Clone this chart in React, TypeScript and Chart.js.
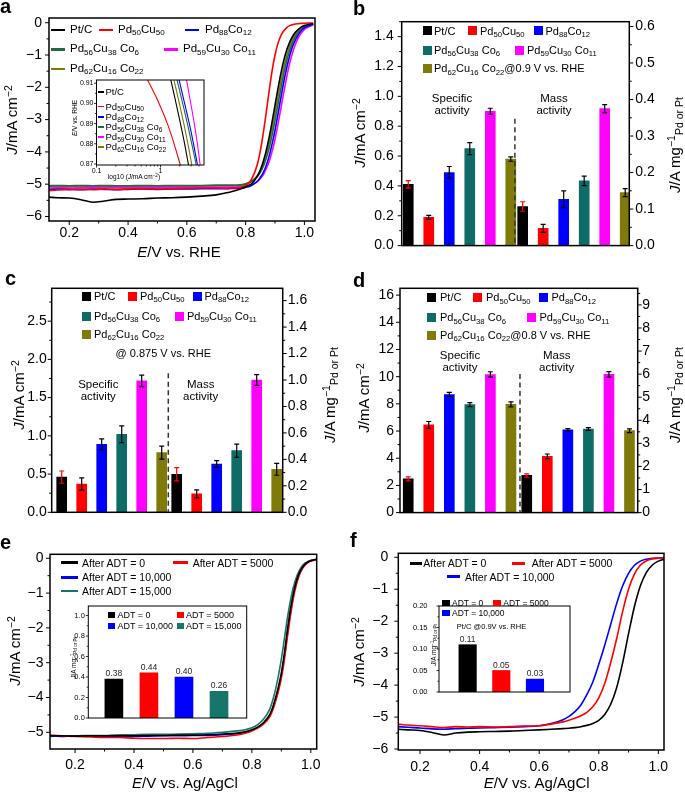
import React, { useEffect, useRef } from 'react';
import { Chart, registerables } from 'chart.js';

Chart.register(...registerables);
const FONT = "'Liberation Sans', Arial, Helvetica, sans-serif";
Chart.defaults.font.family = FONT;
Chart.defaults.color = '#000';

// ---------------- names / labels ----------------
const ALLOYS = ['Pt/C', 'Pd50Cu50', 'Pd88Co12', 'Pd56Cu38 Co6', 'Pd59Cu30 Co11', 'Pd62Cu16 Co22'];
const ADT_LABELS = ['After ADT = 0', 'After ADT = 5000', 'After ADT = 10,000', 'After ADT = 15,000'];
const ADT_SHORT = ['ADT = 0', 'ADT = 5000', 'ADT = 10,000', 'ADT = 15,000'];
const NOTE_B = '@0.9 V vs. RHE';
const NOTE_C = '@ 0.875 V vs. RHE';
const NOTE_D = '@0.8 V vs. RHE';
const NOTE_F = 'Pt/C @0.9V vs. RHE';

// ---------------- panel a : LSV curves (E / V vs RHE, J / mA cm-2) ----------------
const A_E = [0.13, 0.16, 0.2, 0.24, 0.28, 0.32, 0.36, 0.4, 0.45, 0.5, 0.55, 0.6, 0.65, 0.7, 0.74, 0.76,
  0.78, 0.8, 0.82, 0.84, 0.85, 0.86, 0.87, 0.88, 0.89, 0.9, 0.91, 0.92, 0.93, 0.94, 0.95, 0.96, 0.97, 0.98, 0.99, 1.0, 1.01, 1.03];
const A_PTC = [-5.40, -5.42, -5.43, -5.48, -5.56, -5.52, -5.47, -5.46, -5.45, -5.43, -5.42, -5.40, -5.37, -5.33, -5.26, -5.21,
  -5.16, -5.08, -4.99, -4.75, -4.56, -4.30, -3.96, -3.55, -3.07, -2.55, -2.04, -1.57, -1.16, -0.84, -0.60, -0.42, -0.29, -0.20, -0.13, -0.09, -0.06, -0.03];
const A_PDCU = [-5.20, -5.18, -5.17, -5.16, -5.17, -5.15, -5.16, -5.15, -5.14, -5.15, -5.14, -5.13, -5.12, -5.12, -5.13, -5.12,
  -5.11, -5.04, -4.85, -4.38, -3.97, -3.42, -2.78, -2.11, -1.49, -1.00, -0.64, -0.40, -0.25, -0.15, -0.09, -0.06, -0.04, -0.03, -0.02, -0.02, -0.01, -0.01];
const A_PDCO = [-5.17, -5.15, -5.16, -5.17, -5.15, -5.16, -5.17, -5.16, -5.15, -5.16, -5.15, -5.15, -5.14, -5.14, -5.14, -5.13,
  -5.13, -5.10, -5.04, -4.91, -4.79, -4.64, -4.42, -4.13, -3.76, -3.33, -2.83, -2.32, -1.82, -1.39, -1.02, -0.73, -0.52, -0.36, -0.24, -0.16, -0.11, -0.05];
const A_C6 = [-5.05, -5.04, -5.05, -5.04, -5.05, -5.04, -5.05, -5.05, -5.04, -5.05, -5.04, -5.04, -5.04, -5.03, -5.03, -5.03,
  -5.02, -4.99, -4.91, -4.76, -4.63, -4.45, -4.20, -3.88, -3.48, -3.02, -2.53, -2.03, -1.57, -1.17, -0.85, -0.60, -0.42, -0.29, -0.20, -0.14, -0.09, -0.04];
const A_C11 = [-5.12, -5.11, -5.12, -5.11, -5.10, -5.11, -5.10, -5.11, -5.10, -5.10, -5.10, -5.10, -5.09, -5.09, -5.09, -5.09,
  -5.08, -5.06, -5.01, -4.92, -4.83, -4.71, -4.53, -4.30, -3.99, -3.61, -3.15, -2.65, -2.15, -1.67, -1.25, -0.92, -0.65, -0.45, -0.32, -0.21, -0.15, -0.07];
const A_C22 = [-5.08, -5.07, -5.08, -5.07, -5.08, -5.07, -5.07, -5.06, -5.07, -5.06, -5.06, -5.06, -5.06, -5.05, -5.05, -5.05,
  -5.04, -5.00, -4.92, -4.73, -4.57, -4.36, -4.07, -3.71, -3.28, -2.79, -2.29, -1.80, -1.37, -1.01, -0.72, -0.51, -0.35, -0.24, -0.16, -0.11, -0.08, -0.04];
const A_CURVES = [A_PTC, A_PDCU, A_PDCO, A_C6, A_C11, A_C22];
const A_X_TICKS = [0.2, 0.4, 0.6, 0.8, 1.0];
const A_Y_TICKS = [0, -1, -2, -3, -4, -5, -6];

// inset a: Tafel-like region (x: J / mA cm-2 on log axis, y: E / V)
const INS_E = [0.912, 0.90, 0.89, 0.88, 0.869];
const INS_PTC = [1.44, 1.75, 2.05, 2.38, 2.76];
const INS_PDCU = [0.62, 0.95, 1.28, 1.63, 2.06];
const INS_PDCO = [1.94, 2.38, 2.82, 3.28, 3.81];
const INS_C6 = [1.80, 2.22, 2.63, 3.08, 3.65];
const INS_C11 = [2.54, 2.97, 3.37, 3.77, 4.18];
const INS_C22 = [1.61, 1.97, 2.31, 2.68, 3.11];
const INS_CURVES = [INS_PTC, INS_PDCU, INS_PDCO, INS_C6, INS_C11, INS_C22];
const INS_X_TICKS = [0.1, 1];
const INS_Y_TICKS = [0.87, 0.88, 0.89, 0.90, 0.91];

// ---------------- panels b, c, d : activities ----------------
const B_SPEC = [0.41, 0.19, 0.49, 0.65, 0.90, 0.58];
const B_SPEC_ERR = [0.025, 0.012, 0.04, 0.04, 0.02, 0.015];
const B_MASS = [0.107, 0.047, 0.127, 0.177, 0.375, 0.145];
const B_MASS_ERR = [0.013, 0.011, 0.023, 0.013, 0.011, 0.011];
const B_LEFT_TICKS = [0, 0.2, 0.4, 0.6, 0.8, 1.0, 1.2, 1.4];
const B_RIGHT_TICKS = [0, 0.1, 0.2, 0.3, 0.4, 0.5, 0.6];

const C_SPEC = [0.46, 0.37, 0.89, 1.02, 1.72, 0.78];
const C_SPEC_ERR = [0.08, 0.08, 0.07, 0.11, 0.075, 0.085];
const C_MASS = [0.287, 0.139, 0.365, 0.466, 1.0, 0.325];
const C_MASS_ERR = [0.05, 0.03, 0.025, 0.05, 0.04, 0.045];
const C_LEFT_TICKS = [0, 0.5, 1.0, 1.5, 2.0, 2.5];
const C_RIGHT_TICKS = [0, 0.2, 0.4, 0.6, 0.8, 1.0, 1.2, 1.4, 1.6];

const D_SPEC = [2.48, 6.45, 8.69, 7.94, 10.16, 7.96];
const D_SPEC_ERR = [0.15, 0.25, 0.15, 0.15, 0.2, 0.18];
const D_MASS = [1.61, 2.44, 3.59, 3.62, 5.99, 3.55];
const D_MASS_ERR = [0.07, 0.1, 0.05, 0.06, 0.12, 0.08];
const D_LEFT_TICKS = [0, 2, 4, 6, 8, 10, 12, 14, 16];
const D_RIGHT_TICKS = [0, 1, 2, 3, 4, 5, 6, 7, 8, 9];

// ---------------- panel e : ADT of Pd59Cu30Co11 ----------------
const E_E = [0.115, 0.15, 0.2, 0.25, 0.3, 0.35, 0.4, 0.45, 0.5, 0.55, 0.6, 0.65, 0.7, 0.75,
  0.78, 0.8, 0.82, 0.84, 0.86, 0.87, 0.88, 0.89, 0.9, 0.91, 0.92, 0.93, 0.94, 0.95, 0.96, 0.97, 0.98, 0.99, 1.0, 1.02];
const E_ADT0 = [-5.10, -5.10, -5.11, -5.10, -5.10, -5.09, -5.10, -5.09, -5.09, -5.08, -5.08, -5.07, -5.05, -5.02,
  -4.98, -4.93, -4.85, -4.72, -4.50, -4.30, -4.02, -3.70, -3.30, -2.75, -2.10, -1.52, -1.05, -0.69, -0.44, -0.28, -0.17, -0.11, -0.07, -0.03];
const E_ADT5000 = [-5.08, -5.10, -5.12, -5.13, -5.15, -5.15, -5.17, -5.18, -5.18, -5.17, -5.18, -5.15, -5.12, -5.08,
  -5.02, -4.96, -4.88, -4.76, -4.56, -4.38, -4.12, -3.82, -3.44, -2.93, -2.30, -1.70, -1.18, -0.79, -0.51, -0.32, -0.20, -0.12, -0.08, -0.03];
const E_ADT10000 = [-5.10, -5.12, -5.11, -5.12, -5.12, -5.11, -5.12, -5.11, -5.10, -5.10, -5.09, -5.09, -5.07, -5.04,
  -4.99, -4.94, -4.86, -4.74, -4.53, -4.34, -4.07, -3.76, -3.37, -2.84, -2.20, -1.61, -1.11, -0.74, -0.47, -0.30, -0.18, -0.11, -0.07, -0.03];
const E_ADT15000 = [-5.12, -5.10, -5.10, -5.09, -5.09, -5.08, -5.07, -5.06, -5.06, -5.05, -5.04, -5.03, -5.00, -4.96,
  -4.92, -4.87, -4.78, -4.62, -4.35, -4.10, -3.78, -3.38, -2.90, -2.33, -1.75, -1.25, -0.86, -0.57, -0.37, -0.23, -0.14, -0.09, -0.06, -0.03];
const E_CURVES = [E_ADT0, E_ADT5000, E_ADT10000, E_ADT15000];
const E_Y_TICKS = [0, -1, -2, -3, -4, -5];
const E_INSET = [0.38, 0.44, 0.40, 0.26];
const E_INSET_TICKS = [0, 0.2, 0.4, 0.6, 0.8, 1.0];

// ---------------- panel f : ADT of Pt/C ----------------
const F_E = [0.127, 0.16, 0.2, 0.24, 0.28, 0.32, 0.36, 0.4, 0.45, 0.5, 0.55, 0.6, 0.64, 0.68, 0.7, 0.72, 0.74, 0.76,
  0.78, 0.8, 0.82, 0.84, 0.86, 0.88, 0.9, 0.92, 0.94, 0.96, 0.98, 1.0, 1.02];
const F_ADT0 = [-5.38, -5.40, -5.42, -5.48, -5.56, -5.50, -5.47, -5.46, -5.45, -5.44, -5.42, -5.40, -5.38, -5.36, -5.35, -5.33, -5.30, -5.26,
  -5.20, -5.10, -4.92, -4.60, -4.08, -3.31, -2.39, -1.53, -0.88, -0.47, -0.24, -0.12, -0.06];
const F_ADT5000 = [-5.22, -5.25, -5.27, -5.30, -5.33, -5.30, -5.31, -5.30, -5.31, -5.30, -5.28, -5.27, -5.22, -5.15, -5.10, -5.04, -4.96, -4.85,
  -4.68, -4.40, -3.95, -3.30, -2.55, -1.70, -1.00, -0.52, -0.24, -0.11, -0.05, -0.03, -0.02];
const F_ADT10000 = [-5.30, -5.32, -5.34, -5.37, -5.38, -5.36, -5.35, -5.34, -5.33, -5.32, -5.30, -5.27, -5.20, -5.08, -4.98, -4.83, -4.62, -4.30,
  -3.90, -3.35, -2.75, -2.10, -1.45, -0.90, -0.50, -0.25, -0.12, -0.06, -0.03, -0.02, -0.01];
const F_CURVES = [F_ADT0, F_ADT5000, F_ADT10000];
const F_INSET = [0.11, 0.05, 0.03];
const F_INSET_TICKS = [0, 0.05, 0.10, 0.15, 0.20];

// ---------------- styles ----------------
const LINE_A = ['#000000', '#ff0000', '#0000ff', '#1f6b3f', '#ff00ff', '#807800'];
const BAR_COL = ['#000000', '#ff0000', '#0000ff', '#0f6b66', '#ff00ff', '#7f7a0a'];
const ERR_COL = ['#ff0000', '#000000', '#000000', '#000000', '#000000', '#000000'];
const ADT_COL = ['#000000', '#ff0000', '#0000ff', '#16766c'];
const TICK_FONT = 14;

// ---------------- plugins ----------------
const framePlugin: any = {
  id: 'frameTicks',
  beforeDraw(chart: any, _a: any, o: any) {
    if (!o || !o.fill) return;
    const { ctx, chartArea: c } = chart;
    ctx.save();
    ctx.fillStyle = o.fill;
    ctx.fillRect(c.left, c.top, c.right - c.left, c.bottom - c.top);
    ctx.restore();
  },
  afterDatasetsDraw(chart: any, _a: any, o: any) {
    const { ctx, chartArea: c } = chart;
    ctx.save();
    ctx.strokeStyle = '#000';
    ctx.lineWidth = o.tickWidth || 1;
    (o.axes || []).forEach((ax: any) => {
      const s = chart.scales[ax.id];
      if (!s) return;
      const mk = (v: number, len: number) => {
        if (v < s.min - 1e-9 || v > s.max + 1e-9) return;
        const p = s.getPixelForValue(v);
        ctx.beginPath();
        if (ax.side === 'left') { ctx.moveTo(c.left, p); ctx.lineTo(c.left - len, p); }
        else if (ax.side === 'right') { ctx.moveTo(c.right, p); ctx.lineTo(c.right + len, p); }
        else { ctx.moveTo(p, c.bottom); ctx.lineTo(p, c.bottom + len); }
        ctx.stroke();
      };
      const majors = s.ticks.map((t: any) => t.value).slice().sort((a: number, b: number) => a - b);
      majors.forEach((v: number) => mk(v, o.major));
      if (s.type === 'logarithmic') {
        const d0 = Math.floor(Math.log10(s.min));
        const d1 = Math.ceil(Math.log10(s.max));
        for (let d = d0; d <= d1; d++) for (let m = 2; m <= 9; m++) mk(m * Math.pow(10, d), o.minor);
      } else if (ax.div > 1 && majors.length > 1) {
        const sub = (majors[1] - majors[0]) / ax.div;
        const k0 = Math.ceil((s.min - majors[0]) / sub - 1e-6);
        const k1 = Math.floor((s.max - majors[0]) / sub + 1e-6);
        for (let k = k0; k <= k1; k++) if (k % ax.div !== 0) mk(majors[0] + k * sub, o.minor);
      }
    });
    ctx.lineWidth = o.frameWidth || 1.5;
    ctx.strokeRect(c.left, c.top, c.right - c.left, c.bottom - c.top);
    ctx.restore();
  },
};

const errorPlugin: any = {
  id: 'errorBars',
  afterDatasetsDraw(chart: any) {
    const ctx = chart.ctx;
    chart.data.datasets.forEach((ds: any, di: number) => {
      if (!ds.errors) return;
      const meta = chart.getDatasetMeta(di);
      const sc = chart.scales[ds.yAxisID];
      meta.data.forEach((el: any, i: number) => {
        const v = ds.data[i].y;
        const e = ds.errors[i];
        const y1 = sc.getPixelForValue(v + e);
        const y2 = sc.getPixelForValue(v - e);
        ctx.save();
        ctx.strokeStyle = ds.errorColors[i];
        ctx.lineWidth = 1.2;
        ctx.beginPath();
        ctx.moveTo(el.x, y1); ctx.lineTo(el.x, y2);
        ctx.moveTo(el.x - 2.5, y1); ctx.lineTo(el.x + 2.5, y1);
        ctx.moveTo(el.x - 2.5, y2); ctx.lineTo(el.x + 2.5, y2);
        ctx.stroke();
        ctx.restore();
      });
    });
  },
};

const dividerPlugin: any = {
  id: 'divider',
  afterDatasetsDraw(chart: any, _a: any, o: any) {
    const { ctx, chartArea: c, scales } = chart;
    const x = scales.x.getPixelForValue(o.x);
    const y = scales.y.getPixelForValue(o.top);
    ctx.save();
    ctx.strokeStyle = '#333';
    ctx.lineWidth = 1.5;
    ctx.setLineDash([5, 3.5]);
    ctx.beginPath();
    ctx.moveTo(x, y);
    ctx.lineTo(x, c.bottom);
    ctx.stroke();
    ctx.restore();
  },
};

const valuePlugin: any = {
  id: 'valueLabels',
  afterDatasetsDraw(chart: any, _a: any, o: any) {
    const ctx = chart.ctx;
    ctx.save();
    ctx.font = `${o.size || 8.5}px ${FONT}`;
    ctx.fillStyle = '#222';
    ctx.textAlign = 'center';
    ctx.textBaseline = 'bottom';
    chart.data.datasets.forEach((ds: any, di: number) => {
      chart.getDatasetMeta(di).data.forEach((el: any, i: number) => {
        ctx.fillText(Number(ds.data[i].y).toFixed(2), el.x, el.y - 1);
      });
    });
    ctx.restore();
  },
};

// ---------------- config helpers ----------------
function axis(pos: string, o: any) {
  const cfg: any = {
    type: o.type || 'linear',
    position: pos,
    min: o.min,
    max: o.max,
    offset: false,
    grid: { display: false, drawTicks: false },
    border: { display: false },
    ticks: {
      autoSkip: false, maxRotation: 0, minRotation: 0,
      padding: o.pad,
      color: '#000',
      font: { family: FONT, size: o.font },
      callback: (v: any) => o.fmt(Number(v)),
    },
    afterBuildTicks: (s: any) => { s.ticks = o.ticks.map((v: number) => ({ value: v })); },
  };
  if (o.size != null) {
    cfg.afterFit = (s: any) => { if (pos === 'bottom') s.height = o.size; else s.width = o.size; };
  }
  return cfg;
}

const fmtNeg = (v: number) => (Math.abs(v) < 1e-9 ? '0' : v < 0 ? '\u2212' + Math.abs(v) : String(v));
const fmt1 = (v: number) => v.toFixed(1);
const fmt2 = (v: number) => v.toFixed(2);
const fmtInt = (v: number) => String(Math.round(v));

const lineDs = (xs: number[], ys: number[], color: string, width: number) => ({
  data: xs.map((x, i) => ({ x, y: ys[i] })),
  borderColor: color,
  backgroundColor: color,
  borderWidth: width,
  pointRadius: 0,
  cubicInterpolationMode: 'monotone',
  fill: false,
});

const baseOpts = { animation: false, responsive: false, events: [] as any[] };

function lineChart(rect: any, area: any, datasets: any[], xo: any, yo: any, frame: any) {
  return () => ({
    type: 'line',
    data: { datasets },
    options: {
      ...baseOpts,
      layout: { padding: { left: 0, top: area.T - rect.y, right: rect.x + rect.w - area.R, bottom: 0 } },
      plugins: { legend: { display: false }, tooltip: { enabled: false }, frameTicks: frame },
      scales: {
        x: axis('bottom', { ...xo, size: rect.y + rect.h - area.B }),
        y: axis('left', { ...yo, size: area.L - rect.x }),
      },
    },
    plugins: [framePlugin],
  });
}

function barPanel(rect: any, area: any, p: any) {
  const ds = (vals: number[], errs: number[], off: number, id: string) => ({
    type: 'bar',
    data: vals.map((y, i) => ({ x: i + off, y })),
    yAxisID: id,
    backgroundColor: BAR_COL,
    borderWidth: 0,
    barThickness: 10,
    grouped: false,
    errors: errs,
    errorColors: ERR_COL,
  });
  return () => ({
    type: 'bar',
    data: { datasets: [ds(p.spec, p.specErr, 0, 'y'), ds(p.mass, p.massErr, p.massOff, 'y1')] },
    options: {
      ...baseOpts,
      layout: { padding: { left: 0, right: 0, top: area.T - rect.y, bottom: rect.y + rect.h - area.B } },
      plugins: {
        legend: { display: false }, tooltip: { enabled: false },
        frameTicks: { axes: [{ id: 'y', side: 'left', div: 2 }, { id: 'y1', side: 'right', div: 2 }], major: 4, minor: 2.5, frameWidth: 1.5, tickWidth: 1 },
        divider: { x: p.divX, top: p.divTop },
      },
      scales: {
        x: { type: 'linear', display: false, min: p.xMin, max: p.xMax, offset: false },
        y: axis('left', { ...p.left, size: area.L - rect.x }),
        y1: axis('right', { ...p.right, size: rect.x + rect.w - area.R }),
      },
    },
    plugins: [framePlugin, errorPlugin, dividerPlugin],
  });
}

function insetBars(rect: any, area: any, vals: number[], colors: string[], thick: number, xMin: number, xMax: number, yo: any) {
  return () => ({
    type: 'bar',
    data: { datasets: [{ data: vals.map((y, i) => ({ x: i, y })), backgroundColor: colors, borderWidth: 0, barThickness: thick, grouped: false }] },
    options: {
      ...baseOpts,
      layout: { padding: { left: 0, top: area.T - rect.y, right: rect.x + rect.w - area.R, bottom: rect.y + rect.h - area.B } },
      plugins: {
        legend: { display: false }, tooltip: { enabled: false },
        frameTicks: { fill: '#fff', axes: [{ id: 'y', side: 'left', div: 2 }], major: 2.5, minor: 1.5, frameWidth: 1, tickWidth: 0.8 },
        valueLabels: { size: 8.5 },
      },
      scales: {
        x: { type: 'linear', display: false, min: xMin, max: xMax, offset: false },
        y: axis('left', { ...yo, size: area.L - rect.x }),
      },
    },
    plugins: [framePlugin, valuePlugin],
  });
}

// ---------------- geometry (page px) ----------------
const RA = { x: 0, y: 0, w: 340, h: 262 }; const AA = { L: 49, T: 18, R: 315, B: 221 };
const RAI = { x: 62, y: 72, w: 146, h: 112 }; const AAI = { L: 96.5, T: 80, R: 204, B: 165 };
const RB = { x: 345, y: 0, w: 340, h: 262 }; const AB = { L: 401.7, T: 21.7, R: 629.3, B: 246.7 };
const RC = { x: 0, y: 265, w: 340, h: 262 }; const AC = { L: 51.7, T: 288.3, R: 282.7, B: 512.3 };
const RD = { x: 345, y: 265, w: 340, h: 262 }; const AD = { L: 400, T: 288.3, R: 637.7, B: 514 };
const RE = { x: 0, y: 530, w: 340, h: 262 }; const AE = { L: 50, T: 554.3, R: 316.7, B: 749 };
const REI = { x: 60, y: 598, w: 192, h: 128 }; const AEI = { L: 88.3, T: 606, R: 246.7, B: 722.3 };
const RF = { x: 345, y: 530, w: 340, h: 262 }; const AF = { L: 398.3, T: 553.3, R: 664, B: 750 };
const RFI = { x: 395, y: 590, w: 180, h: 118 }; const AFI = { L: 439, T: 597.7, R: 570, B: 702.7 };

const MAIN_FRAME = (div: number) => ({ axes: [{ id: 'x', side: 'bottom', div: 2 }, { id: 'y', side: 'left', div }], major: 4, minor: 2.5, frameWidth: 1.5, tickWidth: 1 });

const cfgA = lineChart(RA, AA, A_CURVES.map((ys, k) => lineDs(A_E, ys, LINE_A[k], 1.6)),
  { min: 0.131, max: 1.036, ticks: A_X_TICKS, fmt: fmt1, font: TICK_FONT, pad: 3.5 },
  { min: -6.14, max: 0.146, ticks: A_Y_TICKS, fmt: fmtNeg, font: TICK_FONT, pad: 7 }, MAIN_FRAME(2));

const cfgAI = lineChart(RAI, AAI, INS_CURVES.map((xs, k) => lineDs(xs, INS_E, LINE_A[k], 1.1)),
  { type: 'logarithmic', min: 0.1, max: 4.78, ticks: INS_X_TICKS, fmt: (v: number) => (v < 0.5 ? '0.1' : '1'), font: 7, pad: 1.5 },
  { min: 0.8695, max: 0.9116, ticks: INS_Y_TICKS, fmt: fmt2, font: 7, pad: 3 },
  { fill: '#fff', axes: [{ id: 'x', side: 'bottom' }, { id: 'y', side: 'left', div: 2 }], major: 2.5, minor: 1.5, frameWidth: 1, tickWidth: 0.8 });

const cfgB = barPanel(RB, AB, {
  spec: B_SPEC, specErr: B_SPEC_ERR, mass: B_MASS, massErr: B_MASS_ERR, massOff: 5.58,
  xMin: -0.32, xMax: 10.78, divX: 5.2, divTop: 0.85,
  left: { min: 0, max: 1.5, ticks: B_LEFT_TICKS, fmt: fmt1, font: TICK_FONT, pad: 8 },
  right: { min: 0, max: 0.613, ticks: B_RIGHT_TICKS, fmt: fmt1, font: TICK_FONT, pad: 6 },
});
const cfgC = barPanel(RC, AC, {
  spec: C_SPEC, specErr: C_SPEC_ERR, mass: C_MASS, massErr: C_MASS_ERR, massOff: 5.75,
  xMin: -0.5, xMax: 11.05, divX: 5.33, divTop: 1.82,
  left: { min: 0, max: 2.93, ticks: C_LEFT_TICKS, fmt: fmt1, font: TICK_FONT, pad: 5 },
  right: { min: 0, max: 1.693, ticks: C_RIGHT_TICKS, fmt: fmt1, font: TICK_FONT, pad: 5 },
});
const cfgD = barPanel(RD, AD, {
  spec: D_SPEC, specErr: D_SPEC_ERR, mass: D_MASS, massErr: D_MASS_ERR, massOff: 5.77,
  xMin: -0.4, xMax: 11.17, divX: 5.44, divTop: 10.2,
  left: { min: 0, max: 16.5, ticks: D_LEFT_TICKS, fmt: fmtInt, font: TICK_FONT, pad: 6 },
  right: { min: 0, max: 9.72, ticks: D_RIGHT_TICKS, fmt: fmtInt, font: TICK_FONT, pad: 4.5 },
});

const cfgE = lineChart(RE, AE, E_CURVES.map((ys, k) => lineDs(E_E, ys, ADT_COL[k], 1.6)),
  { min: 0.115, max: 1.02, ticks: A_X_TICKS, fmt: fmt1, font: TICK_FONT, pad: 7.5 },
  { min: -5.48, max: 0.115, ticks: E_Y_TICKS, fmt: fmtNeg, font: TICK_FONT, pad: 6.5 }, MAIN_FRAME(2));
const cfgEI = insetBars(REI, AEI, E_INSET, ADT_COL, 18, -0.73, 3.79,
  { min: 0, max: 1.093, ticks: E_INSET_TICKS, fmt: fmt1, font: 7.5, pad: 3.5 });

const cfgF = lineChart(RF, AF, F_CURVES.map((ys, k) => lineDs(F_E, ys, ADT_COL[k], 1.6)),
  { min: 0.127, max: 1.019, ticks: A_X_TICKS, fmt: fmt1, font: TICK_FONT, pad: 8.5 },
  { min: -6.03, max: 0.125, ticks: A_Y_TICKS, fmt: fmtNeg, font: TICK_FONT, pad: 10 }, MAIN_FRAME(2));
const cfgFI = insetBars(RFI, AFI, F_INSET, ADT_COL, 17.5, -0.85, 3.04,
  { min: 0, max: 0.2, ticks: F_INSET_TICKS, fmt: fmt2, font: 7.5, pad: 11.5 });

// ---------------- React pieces ----------------
function ChartBox({ rect, config }: any) {
  const ref = useRef<HTMLCanvasElement | null>(null);
  useEffect(() => {
    const chart = new Chart(ref.current as HTMLCanvasElement, config() as any);
    return () => chart.destroy();
  }, []);
  return <canvas ref={ref} width={rect.w} height={rect.h}
    style={{ position: 'absolute', left: rect.x, top: rect.y, width: rect.w, height: rect.h }} />;
}

const Sub = ({ children }: any) => <span style={{ fontSize: '0.7em', position: 'relative', top: '0.3em' }}>{children}</span>;
const Sup = ({ children }: any) => <span style={{ fontSize: '0.7em', position: 'relative', top: '-0.45em' }}>{children}</span>;
function chem(s: string) {
  return s.split(/(\d+)/).filter((p) => p.length > 0).map((p, i) => (/^\d+$/.test(p) ? <Sub key={i}>{p}</Sub> : <span key={i}>{p}</span>));
}

function T({ x, y, size, anchor = 'left', rotate = false, bold = false, children }: any) {
  const tx = anchor === 'left' ? '0' : anchor === 'center' ? '-50%' : '-100%';
  const transform = rotate ? 'translate(-50%,-50%) rotate(-90deg)' : `translate(${tx},-50%)`;
  return (
    <div style={{ position: 'absolute', left: x, top: y, fontSize: size, lineHeight: 1, whiteSpace: 'nowrap', fontFamily: FONT, fontWeight: bold ? 700 : 400, color: '#000', transform }}>
      {children}
    </div>
  );
}

function Sample({ x, y, w, h, color }: any) {
  return <div style={{ position: 'absolute', left: x, top: y - h / 2, width: w, height: h, background: color }} />;
}

const JTitle = () => <><i>J</i>/mA cm<Sup>{'\u22122'}</Sup></>;
const MassTitle = () => <><i>J</i>/A mg<Sup>{'\u22121'}</Sup><Sub>Pd or Pt</Sub></>;

// legend layouts: [sampleX, sampleW, textX, y]
const LEG_A = [[51, 14, 70, 30], [99, 14, 118, 30], [185, 14, 205, 30], [51, 14, 70, 49.3], [164, 14, 183, 49.3], [51, 14, 70, 69]];
const LEG_AI = [[97.5, 6.5, 105.5, 92], [97.5, 6.5, 105.5, 106.5], [97.5, 6.5, 105.5, 117], [97.5, 6.5, 105.5, 127], [97.5, 6.5, 105.5, 137], [97.5, 6.5, 105.5, 147]];
const LEG_B = [[423, 434, 30.7], [468, 480, 30.7], [534, 545.5, 30.7], [423, 434, 50], [515, 527, 50], [423, 434, 68.3]];
const LEG_C = [[81.7, 94, 296], [128, 140, 296], [193, 204.5, 296], [81.7, 94, 316], [175, 187, 316], [81.7, 94, 334]];
const LEG_D = [[427, 440, 297.3], [473, 486, 297.3], [539, 551.5, 297.3], [427, 440, 317.3], [527, 539.5, 317.3], [427, 440, 335]];
const LEG_E = [[61, 17, 82, 562.7], [173, 15, 192.7, 562.7], [61, 17, 82, 577.3], [61, 17, 82, 591]];
const LEG_F = [[410, 12, 423.3, 563.3], [511.7, 13.3, 531.7, 563.3], [446.7, 13.3, 465, 576.7]];
const LEG_EI = [[108.3, 117.5, 615], [177, 186, 615], [108.3, 117.5, 626], [177, 186, 626]];
const LEG_FI = [[441.7, 452, 603.3], [493, 503.3, 603.3], [441.7, 452, 612.7]];

function SquareLegend({ rows, size, sq, notes }: any) {
  return <>{rows.map((r: any, i: number) => (
    <React.Fragment key={i}>
      <Sample x={r[0]} y={r[2]} w={sq} h={sq} color={BAR_COL[i]} />
      <T x={r[1]} y={r[2]} size={size}>{chem(ALLOYS[i])}{notes && notes[i] ? notes[i] : null}</T>
    </React.Fragment>
  ))}</>;
}

export default function App() {
  useEffect(() => { document.body.style.margin = '0'; }, []);
  return (
    <div style={{ position: 'absolute', left: 0, top: 0, width: 685, height: 792, overflow: 'hidden', background: '#fff', fontFamily: FONT }}>
      <ChartBox rect={RA} config={cfgA} />
      <ChartBox rect={RAI} config={cfgAI} />
      <ChartBox rect={RB} config={cfgB} />
      <ChartBox rect={RC} config={cfgC} />
      <ChartBox rect={RD} config={cfgD} />
      <ChartBox rect={RE} config={cfgE} />
      <ChartBox rect={REI} config={cfgEI} />
      <ChartBox rect={RF} config={cfgF} />
      <ChartBox rect={RFI} config={cfgFI} />

      {/* panel letters */}
      <T x={0} y={6} size={20} bold>a</T>
      <T x={353} y={8} size={20} bold>b</T>
      <T x={5} y={278} size={20} bold>c</T>
      <T x={353} y={280} size={20} bold>d</T>
      <T x={0} y={542} size={20} bold>e</T>
      <T x={350} y={540} size={20} bold>f</T>

      {/* panel a */}
      <T x={11} y={120} size={15} rotate><JTitle /></T>
      <T x={179} y={251} size={15} anchor="center"><i>E</i>/V vs. RHE</T>
      {LEG_A.map((r, i) => (
        <React.Fragment key={i}>
          <Sample x={r[0]} y={r[3]} w={r[1]} h={2.5} color={LINE_A[i]} />
          <T x={r[2]} y={r[3]} size={11.5}>{chem(ALLOYS[i])}</T>
        </React.Fragment>
      ))}
      {LEG_AI.map((r, i) => (
        <React.Fragment key={i}>
          <Sample x={r[0]} y={r[3]} w={r[1]} h={1.3} color={LINE_A[i]} />
          <T x={r[2]} y={r[3]} size={9.5}>{chem(ALLOYS[i])}</T>
        </React.Fragment>
      ))}
      <T x={75} y={118} size={6.5} rotate><i>E</i>/V vs. RHE</T>
      <T x={134} y={177} size={6.5} anchor="center">log10 (<i>J</i>/mA cm<Sup>{'\u22122'}</Sup>)</T>

      {/* panel b */}
      <T x={359} y={133} size={15} rotate><JTitle /></T>
      <T x={674} y={145} size={15} rotate><MassTitle /></T>
      <SquareLegend rows={LEG_B} size={11} sq={9} notes={[null, null, null, null, null, NOTE_B]} />
      <T x={452} y={99} size={11.5} anchor="center">Specific</T>
      <T x={452} y={110.7} size={11.5} anchor="center">activity</T>
      <T x={554} y={98.5} size={11.5} anchor="center">Mass</T>
      <T x={554} y={110.7} size={11.5} anchor="center">activity</T>

      {/* panel c */}
      <T x={18} y={395} size={15} rotate><JTitle /></T>
      <T x={329} y={395} size={15} rotate><MassTitle /></T>
      <SquareLegend rows={LEG_C} size={11} sq={9} />
      <T x={163.3} y={352.7} size={11} anchor="center">{NOTE_C}</T>
      <T x={98.3} y={385} size={11.5} anchor="center">Specific</T>
      <T x={98.3} y={397.3} size={11.5} anchor="center">activity</T>
      <T x={200.7} y={385} size={11.5} anchor="center">Mass</T>
      <T x={200.7} y={397.3} size={11.5} anchor="center">activity</T>

      {/* panel d */}
      <T x={363} y={398} size={15} rotate><JTitle /></T>
      <T x={674} y={395} size={15} rotate><MassTitle /></T>
      <SquareLegend rows={LEG_D} size={11} sq={9} notes={[null, null, null, null, null, NOTE_D]} />
      <T x={460} y={355.7} size={11.5} anchor="center">Specific</T>
      <T x={460} y={367.7} size={11.5} anchor="center">activity</T>
      <T x={556.7} y={355.7} size={11.5} anchor="center">Mass</T>
      <T x={556.7} y={367.7} size={11.5} anchor="center">activity</T>

      {/* panel e */}
      <T x={14} y={651} size={15} rotate><JTitle /></T>
      <T x={185} y={781.5} size={15} anchor="center"><i>E</i>/V vs. Ag/AgCl</T>
      {LEG_E.map((r, i) => (
        <React.Fragment key={i}>
          <Sample x={r[0]} y={r[3]} w={r[1]} h={2.5} color={ADT_COL[i]} />
          <T x={r[2]} y={r[3]} size={10.5}>{ADT_LABELS[i]}</T>
        </React.Fragment>
      ))}
      <T x={74} y={658} size={6.5} rotate><MassTitle /></T>
      {LEG_EI.map((r, i) => (
        <React.Fragment key={i}>
          <Sample x={r[0]} y={r[2]} w={7} h={6} color={ADT_COL[i]} />
          <T x={r[1]} y={r[2]} size={9}>{ADT_SHORT[i]}</T>
        </React.Fragment>
      ))}

      {/* panel f */}
      <T x={358} y={652} size={15} rotate><JTitle /></T>
      <T x={536.7} y={781.5} size={15} anchor="center"><i>E</i>/V vs. Ag/AgCl</T>
      {LEG_F.map((r, i) => (
        <React.Fragment key={i}>
          <Sample x={r[0]} y={r[3]} w={r[1]} h={2.5} color={ADT_COL[i]} />
          <T x={r[2]} y={r[3]} size={10.5}>{ADT_LABELS[i]}</T>
        </React.Fragment>
      ))}
      <T x={434} y={645} size={6.5} rotate><MassTitle /></T>
      {LEG_FI.map((r, i) => (
        <React.Fragment key={i}>
          <Sample x={r[0]} y={r[2]} w={8} h={6} color={ADT_COL[i]} />
          <T x={r[1]} y={r[2]} size={8.5}>{ADT_SHORT[i]}</T>
        </React.Fragment>
      ))}
      <T x={491.5} y={626.7} size={7.5} anchor="center">{NOTE_F}</T>
    </div>
  );
}
